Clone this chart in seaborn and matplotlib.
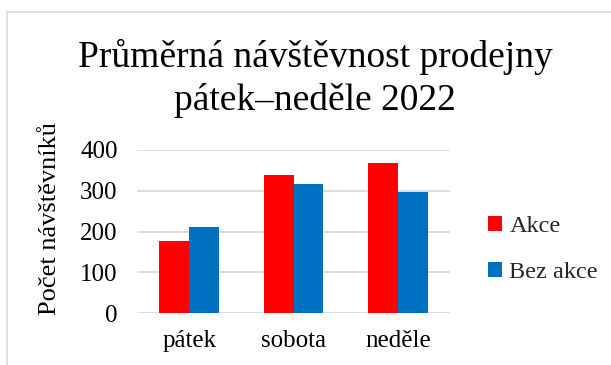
import matplotlib
matplotlib.use("Agg")
import matplotlib.pyplot as plt
import seaborn as sns
import pandas as pd
from matplotlib.patches import Rectangle

days = ["pátek", "sobota", "neděle"]
akce = [177, 338, 367]
bez_akce = [210, 317, 297]
series = ["Akce", "Bez akce"]
colors = ["#FF0000", "#0070C0"]
yticks = [0, 100, 200, 300, 400]

df = pd.DataFrame({
    "den": days * 2,
    "hodnota": akce + bez_akce,
    "serie": [series[0]] * 3 + [series[1]] * 3,
})

sns.set_theme(style="white")
plt.rcParams["font.family"] = ["Liberation Serif", "DejaVu Serif"]

fig = plt.figure(figsize=(6.11, 3.65), dpi=100)
W, H = 611, 365
ax = fig.add_axes([137 / W, 1 - 313 / H, (450 - 137) / W, (313 - 150) / H])

sns.barplot(data=df, x="den", y="hodnota", hue="serie", palette=colors,
            width=0.575, saturation=1, ax=ax, legend=True, linewidth=0)

ax.set_ylim(0, 400)
ax.set_xlim(-0.5, 2.5)
ax.set_yticks(yticks)
ax.yaxis.grid(True, color="#D9D9D9", linewidth=1.3)
ax.set_axisbelow(True)
for s in ax.spines.values():
    s.set_visible(False)
ax.tick_params(axis="both", length=0, labelsize=18, colors="black")
ax.tick_params(axis="x", pad=12)
ax.tick_params(axis="y", pad=14)
ax.set_xlabel("")
ax.set_ylabel("Počet návštěvníků", fontsize=19, color="black")
ax.yaxis.set_label_coords(-0.243, 0.58)

leg = ax.legend(loc="center left", bbox_to_anchor=(1.05, 0.39), frameon=False,
                fontsize=17.5, handlelength=0.6, handleheight=0.6,
                handletextpad=0.3, labelspacing=1.0)

fig.text(0.516, 1 - 57 / H, "Průměrná návštěvnost prodejny", ha="center",
         va="center", fontsize=27, color="black")
fig.text(0.516, 1 - 100 / H, "pátek–neděle 2022", ha="center",
         va="center", fontsize=27, color="black")

fig.patches.append(Rectangle((7 / W, -0.1), 1.2, 1 - 12 / H + 0.1,
                             transform=fig.transFigure, fill=False,
                             edgecolor="#D9D9D9", linewidth=1.2))

fig.savefig("out.png", dpi=100)
